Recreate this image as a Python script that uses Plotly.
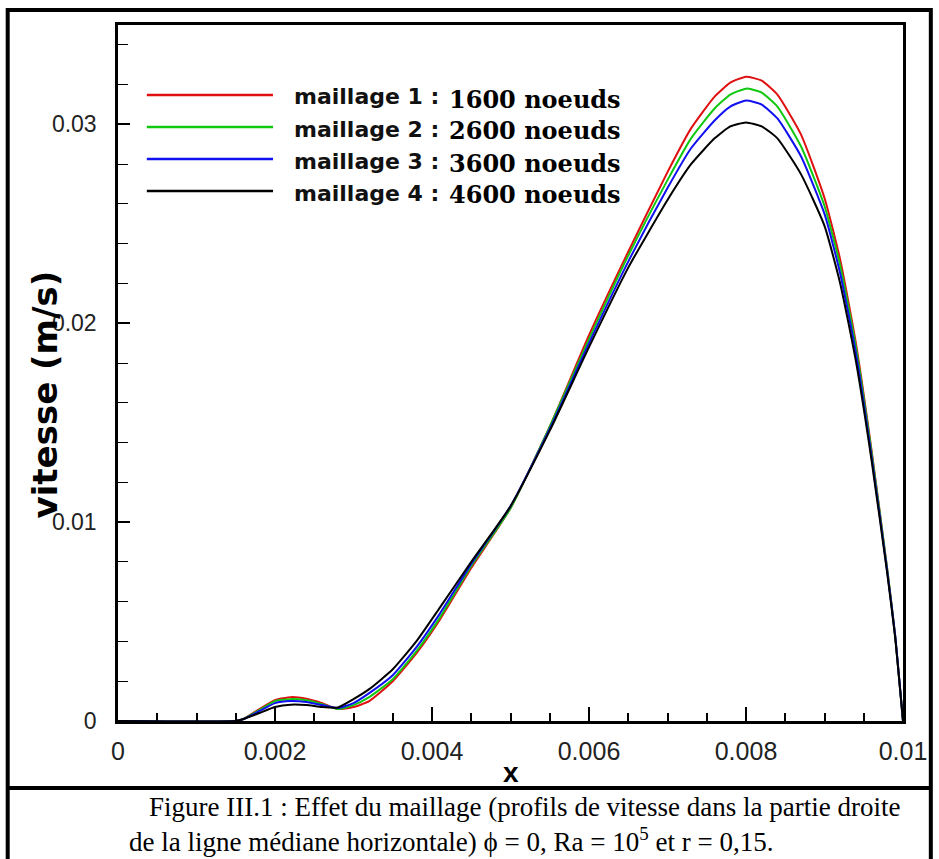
import plotly.graph_objects as go

# Abscissa along the right half of the horizontal mid-line (m)
x_pos = [0.0, 0.0015, 0.0016, 0.0018, 0.0020, 0.0022, 0.0024, 0.0026, 0.0028,
         0.0030, 0.0032, 0.0035, 0.0038, 0.0041, 0.0045, 0.0050, 0.0055, 0.0060,
         0.0065, 0.0070, 0.0073, 0.0076, 0.0078, 0.0080, 0.0082, 0.0084, 0.0087,
         0.0090, 0.0092, 0.0094, 0.0096, 0.0098, 0.0099, 0.0100]

# Velocity profiles (m/s) for the four meshes
v_mesh1 = [0, 0, 0.0001, 0.0006, 0.00105, 0.0012, 0.00112, 0.0009, 0.0006,
           0.0007, 0.0010, 0.0020, 0.0034, 0.0051, 0.0077, 0.0107, 0.0148, 0.0194,
           0.0236, 0.0276, 0.0298, 0.0314, 0.0321, 0.0324, 0.0322, 0.0315, 0.0295,
           0.0263, 0.0232, 0.0190, 0.0136, 0.0076, 0.0043, 0]
v_mesh2 = [0, 0, 0.0001, 0.00055, 0.0010, 0.0011, 0.00104, 0.00085, 0.0006,
           0.0008, 0.0012, 0.0021, 0.0035, 0.0052, 0.0078, 0.0107, 0.0148, 0.0192,
           0.0234, 0.0272, 0.0293, 0.0308, 0.0315, 0.0318, 0.0316, 0.0309, 0.0289,
           0.0259, 0.0229, 0.0188, 0.0135, 0.0076, 0.0043, 0]
v_mesh3 = [0, 0, 0.0001, 0.0005, 0.0009, 0.0010, 0.00095, 0.0008, 0.00065,
           0.0009, 0.0014, 0.0023, 0.0037, 0.0054, 0.0079, 0.0108, 0.0147, 0.0190,
           0.0231, 0.0268, 0.0288, 0.0302, 0.0309, 0.0312, 0.0310, 0.0303, 0.0284,
           0.0255, 0.0225, 0.0185, 0.0133, 0.0075, 0.0043, 0]
v_mesh4 = [0, 0, 0.0001, 0.0004, 0.0007, 0.00082, 0.0008, 0.0007, 0.00068,
           0.0011, 0.0016, 0.0026, 0.0040, 0.0057, 0.0080, 0.0108, 0.0146, 0.0188,
           0.0228, 0.0262, 0.0280, 0.0293, 0.0299, 0.0301, 0.0299, 0.0293, 0.0275,
           0.0249, 0.0220, 0.0181, 0.0131, 0.0074, 0.0042, 0]

mesh_names = ["maillage 1 :", "maillage 2 :", "maillage 3 :", "maillage 4 :"]
mesh_nodes = ["1600 noeuds", "2600 noeuds", "3600 noeuds", "4600 noeuds"]
mesh_colors = ["#e01010", "#10c810", "#1010f0", "#000000"]

x_ticks = [0, 0.002, 0.004, 0.006, 0.008, 0.01]
x_tick_text = ["0", "0.002", "0.004", "0.006", "0.008", "0.01"]
y_ticks = [0, 0.01, 0.02, 0.03]
y_tick_text = ["0", "0.01", "0.02", "0.03"]

caption_1 = "Figure III.1 : Effet du maillage (profils de vitesse dans la partie droite"
caption_2 = "de la ligne médiane horizontale) ϕ = 0, Ra = 10<sup>5</sup> et r = 0,15."

W, H = 939, 859
L, R, T, B = 118, 31, 25, 138
PW, PH = W - L - R, H - T - B


def px(xp):
    return (xp - L) / PW


def py(yp):
    return (H - B - yp) / PH


fig = go.Figure()
for vals, name, col in zip([v_mesh1, v_mesh2, v_mesh3, v_mesh4], mesh_names, mesh_colors):
    fig.add_trace(go.Scatter(x=x_pos, y=vals, mode="lines", name=name,
                             line=dict(color=col, width=2, shape="spline", smoothing=0.5),
                             showlegend=False))

shapes = []
annotations = []

# hand-drawn legend block inside the plot area
row_y = [95, 127, 159, 191]
for ry, name, nodes, col in zip(row_y, mesh_names, mesh_nodes, mesh_colors):
    shapes.append(dict(type="line", xref="paper", yref="paper",
                       x0=px(147), x1=px(274), y0=py(ry), y1=py(ry),
                       line=dict(color=col, width=2.5)))
    annotations.append(dict(xref="paper", yref="paper", x=px(293), y=py(ry + 2),
                            xanchor="left", yanchor="middle", showarrow=False,
                            text="<b>" + name + "</b>",
                            font=dict(family="DejaVu Sans", size=22, color="#111")))
    annotations.append(dict(xref="paper", yref="paper", x=px(449), y=py(ry + 4),
                            xanchor="left", yanchor="middle", showarrow=False,
                            text="<b>" + nodes + "</b>",
                            font=dict(family="DejaVu Serif", size=24, color="#000")))

# axis titles
annotations.append(dict(xref="paper", yref="paper", x=px(513), y=py(772),
                        xanchor="center", yanchor="middle", showarrow=False,
                        text="<b>x</b>", font=dict(family="Liberation Sans", size=28, color="#000")))
annotations.append(dict(xref="paper", yref="paper", x=px(45), y=py(394),
                        xanchor="center", yanchor="middle", showarrow=False, textangle=-90,
                        text="<b>vitesse (m/s)</b>",
                        font=dict(family="DejaVu Sans", size=34, color="#000")))

# caption
annotations.append(dict(xref="paper", yref="paper", x=px(147), y=py(807),
                        xanchor="left", yanchor="middle", showarrow=False,
                        text=caption_1, font=dict(family="Liberation Serif", size=27, color="#000")))
annotations.append(dict(xref="paper", yref="paper", x=px(127), y=py(840),
                        xanchor="left", yanchor="middle", showarrow=False,
                        text=caption_2, font=dict(family="Liberation Serif", size=27, color="#000")))

# outer frame and separator between chart and caption
shapes.append(dict(type="rect", xref="paper", yref="paper",
                   x0=px(7), x1=px(936), y0=py(880), y1=py(10),
                   line=dict(color="#000", width=4), layer="above"))
shapes.append(dict(type="line", xref="paper", yref="paper",
                   x0=px(7), x1=px(936), y0=py(788), y1=py(788),
                   line=dict(color="#000", width=4)))

fig.update_layout(
    width=W, height=H, autosize=False,
    margin=dict(l=L, r=R, t=T, b=B),
    paper_bgcolor="white", plot_bgcolor="white",
    shapes=shapes, annotations=annotations,
    showlegend=False,
)

fig.update_xaxes(range=[0, 0.01], tickvals=x_ticks, ticktext=x_tick_text,
                 ticks="inside", ticklen=14, tickwidth=2, tickcolor="#000",
                 minor=dict(dtick=0.0005, tick0=0, ticks="inside", ticklen=8,
                            tickwidth=1.5, tickcolor="#000", showgrid=False),
                 showline=True, linecolor="#000", linewidth=3, mirror=True,
                 showgrid=False, zeroline=False, ticklabelstandoff=6,
                 tickfont=dict(family="Liberation Sans", size=25, color="#222"))
fig.update_yaxes(range=[0, 0.035], tickvals=y_ticks, ticktext=y_tick_text,
                 ticks="inside", ticklen=12, tickwidth=1.5, tickcolor="#000",
                 minor=dict(dtick=0.002, tick0=0, ticks="inside", ticklen=10,
                            tickwidth=1.2, tickcolor="#000", showgrid=False),
                 showline=True, linecolor="#000", linewidth=2.5, mirror=True,
                 showgrid=False, zeroline=False, ticklabelstandoff=14,
                 tickfont=dict(family="Liberation Sans", size=23, color="#222"))

fig.write_html("out.html")
